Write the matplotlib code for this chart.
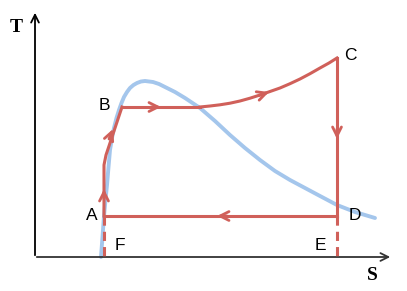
import matplotlib
matplotlib.use("Agg")
import matplotlib.pyplot as plt

# Saturation dome (entropy S, temperature T), arbitrary units
dome_s = [66, 67.5, 69, 70.5, 72, 73.5, 75, 77, 79, 81.5, 84, 86.5, 89, 92, 95, 98.5, 102, 106, 110, 114, 118, 124,
          130, 140, 150, 165, 180, 195, 210, 225, 240, 255, 270, 285, 302, 320, 340]
dome_t = [0, 20, 41, 57, 72, 90, 107, 119, 129, 139, 147, 154, 160, 165, 169, 172, 174, 175.5, 176, 175.5, 175, 173,
          170, 165, 159, 149, 136, 122, 109, 97, 86, 77, 69, 61, 52, 45, 39]

# Rankine cycle path A -> B -> C
pump_s = [69, 69, 71, 87]
pump_t = [41, 92, 102, 150]
boil_s = [87, 165]
boil_t = [150, 150]
super_s = [165, 175, 185, 195, 205, 215, 225, 235, 245, 255, 265, 275, 285, 294, 302]
super_t = [150, 151, 152.2, 153.8, 156, 158.8, 162, 165.5, 169, 173.3, 178, 183.3, 189, 194, 199]

point_s = {"A": 69, "B": 87, "C": 302, "D": 302, "E": 302, "F": 69}
point_t = {"A": 41, "B": 150, "C": 199, "D": 41, "E": 0, "F": 0}

red = "#d0605a"
blue = "#a4c6ec"

fig = plt.figure(figsize=(4.07, 2.91), dpi=100)
ax = fig.add_axes([0, 0, 1, 1])
ax.set_xlim(-35, 372)
ax.set_ylim(-34, 257)
ax.axis("off")

# axes arrows
ax.annotate("", xy=(0, 247), xytext=(0, -1),
            arrowprops=dict(arrowstyle="->", color="black", lw=1.3, mutation_scale=14))
ax.annotate("", xy=(358, 0), xytext=(-1, 0),
            arrowprops=dict(arrowstyle="->", color="#333333", lw=1.3, mutation_scale=14))
ax.text(-19, 230, "T", fontsize=14, fontweight="bold", family="Liberation Serif", ha="center", va="center")
ax.text(337, -18, "S", fontsize=14, fontweight="bold", family="Liberation Serif", ha="center", va="center")

# dome
ax.plot(dome_s, dome_t, color=blue, lw=2.8, solid_capstyle="round", solid_joinstyle="round", zorder=2)

# cycle
line_kw = dict(color=red, lw=2.2, solid_joinstyle="round", zorder=3)
ax.plot(pump_s, pump_t, **line_kw)
ax.plot(boil_s, boil_t, **line_kw)
ax.plot(super_s, super_t, **line_kw)
ax.plot([point_s["C"], point_s["D"]], [point_t["C"], point_t["D"]], **line_kw)
ax.plot([point_s["D"], point_s["A"]], [point_t["D"], point_t["A"]], **line_kw)
ax.plot([point_s["D"], point_s["E"]], [point_t["D"], point_t["E"]], color=red, lw=2.2,
        dashes=(3, 2), zorder=3)
ax.plot([point_s["A"], point_s["F"]], [point_t["A"], point_t["F"]], color=red, lw=2.2,
        dashes=(3, 2), zorder=3)

# direction arrows (tip, tail)
arrows = [((69, 68), (69, 58)), ((78, 128), (74, 118)), ((126, 150), (116, 150)),
          ((234, 165), (224, 161.5)), ((302, 118), (302, 128)), ((182, 41), (192, 41))]
for tip, tail in arrows:
    ax.annotate("", xy=tip, xytext=tail,
                arrowprops=dict(arrowstyle="->", color=red, lw=2.0, mutation_scale=16,
                                shrinkA=0, shrinkB=0), zorder=4)

labels = {"A": (-12, 1), "B": (-18, 2), "C": (13, 2), "D": (18, 0), "E": (-17, 12), "F": (16, 11)}
for name, (dx, dy) in labels.items():
    ax.text(point_s[name] + dx, point_t[name] + dy, name, fontsize=12.5,
            family="Liberation Sans", ha="center", va="center")

fig.savefig("out.png", dpi=100)
